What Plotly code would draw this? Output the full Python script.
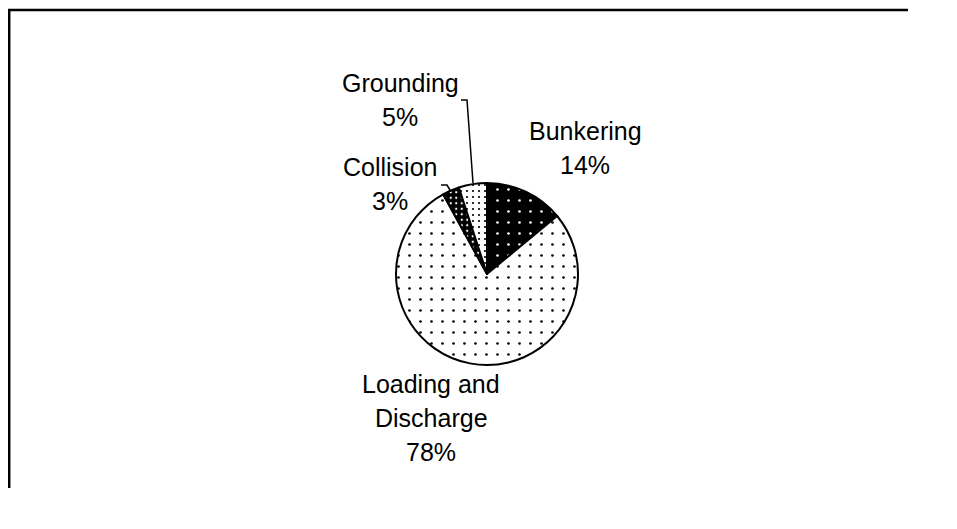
import plotly.graph_objects as go

# ---- data ----
categories = ["Bunkering", "Loading and Discharge", "Collision", "Grounding"]
label_lines = [["Bunkering"], ["Loading and", "Discharge"], ["Collision"], ["Grounding"]]
values = [14, 78, 3, 5]

# ---- styling ----
# the page body has an 8px margin, so the figure is sized to fit the window
W, H = 900, 480
OFF = 8  # page offset of the figure

bg_colors = ["#000000", "#ffffff", "#000000", "#ffffff"]
fg_colors = ["#ffffff", "#000000", "#ffffff", "#000000"]
pat_sizes = [11, 11, 5.5, 6]
pat_solid = [0.045, 0.045, 0.13, 0.11]

# label anchor (page pixels) of first text line centre
label_pos = [(585, 131), (431, 384), (390, 167), (400, 83)]
line_step = 34


def px(x):
    return (x - OFF) / W


def py(y):
    return 1 - (y - OFF) / H


cx, cy, r = 487, 274, 91

fig = go.Figure(go.Pie(
    labels=categories,
    values=values,
    sort=False,
    direction="clockwise",
    rotation=0,
    textinfo="none",
    hoverinfo="label+percent",
    showlegend=False,
    domain=dict(x=[px(cx - r), px(cx + r)], y=[py(cy + r), py(cy - r)]),
    marker=dict(
        colors=bg_colors,
        line=dict(color="#000000", width=2),
        pattern=dict(
            shape=["."] * len(values),
            bgcolor=bg_colors,
            fgcolor=fg_colors,
            size=pat_sizes,
            solidity=pat_solid,
            fillmode="replace",
        ),
    ),
))

total = sum(values)
annotations = []
for lines, v, (lx, ly) in zip(label_lines, values, label_pos):
    all_lines = lines + [f"{round(v / total * 100)}%"]
    for k, t in enumerate(all_lines):
        annotations.append(dict(
            x=px(lx), y=py(ly + k * line_step), xref="paper", yref="paper",
            text=t, showarrow=False, xanchor="center", yanchor="middle",
            font=dict(family="Arial, Liberation Sans, sans-serif", size=25, color="#000000"),
        ))

border = dict(color="#000000", width=2.5)
shapes = [
    # outer chart border: top and left edges (right/bottom lie outside the window)
    dict(type="line", xref="paper", yref="paper",
         x0=px(8), y0=py(10), x1=px(1000), y1=py(10), line=border),
    dict(type="line", xref="paper", yref="paper",
         x0=px(9.2), y0=py(9), x1=px(9.2), y1=py(600), line=border),
    # Grounding leader
    dict(type="path", xref="paper", yref="paper",
         path=f"M {px(461)},{py(100)} L {px(467)},{py(100)} L {px(473)},{py(183)}",
         line=dict(color="#000000", width=1.5)),
    # Collision leader
    dict(type="path", xref="paper", yref="paper",
         path=f"M {px(441)},{py(185)} L {px(447)},{py(185)} L {px(450)},{py(190)}",
         line=dict(color="#000000", width=1.5)),
]

fig.update_layout(
    width=W, height=H,
    margin=dict(l=0, r=0, t=0, b=0),
    paper_bgcolor="#ffffff",
    plot_bgcolor="#ffffff",
    annotations=annotations,
    shapes=shapes,
)

fig.write_html("out.html")
